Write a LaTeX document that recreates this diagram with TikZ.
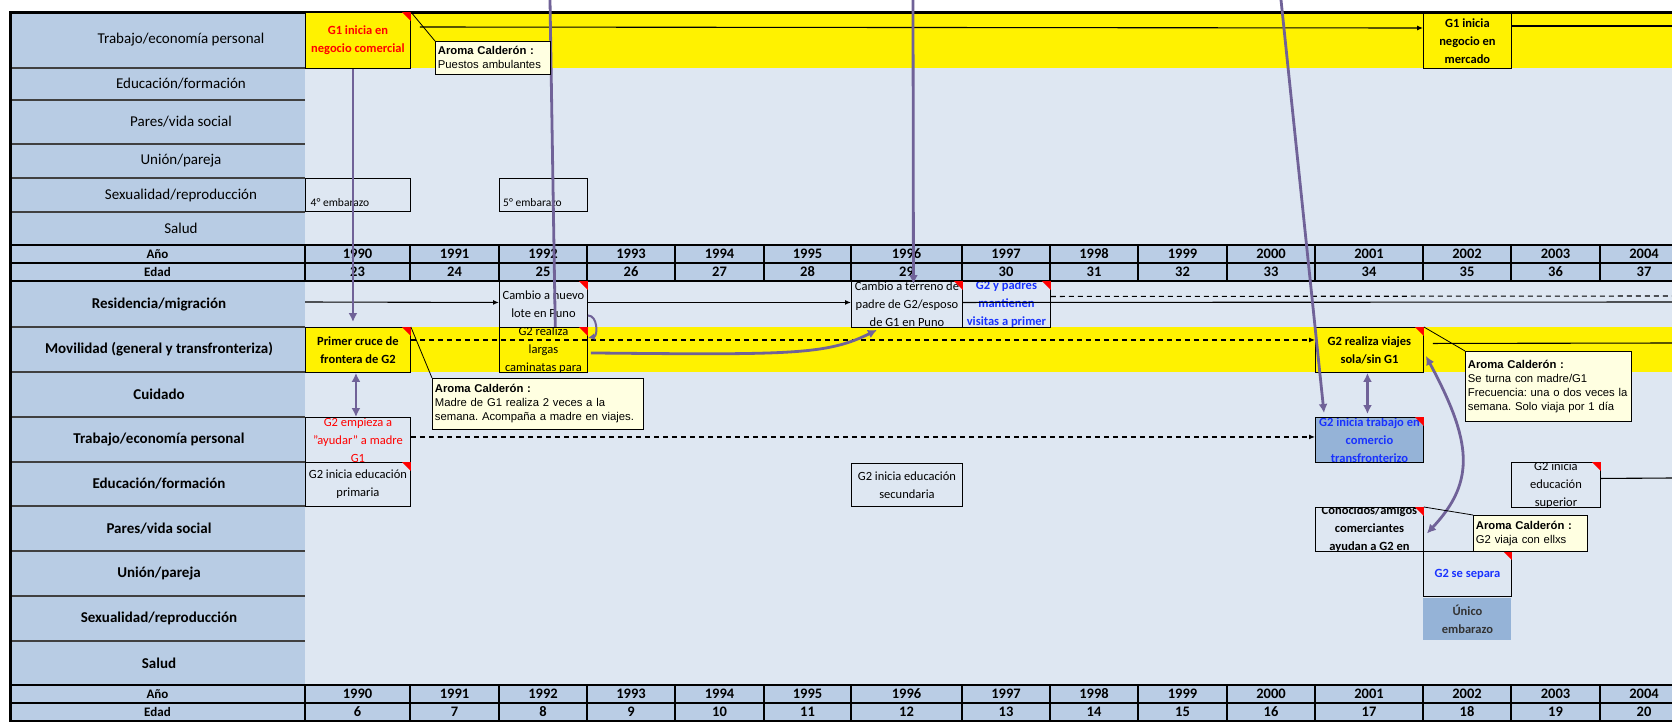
\documentclass[tikz,border=0pt]{standalone}
\usepackage{fontspec}
\setmainfont{Carlito}
\newfontfamily\notefont{Liberation Sans}
\usepackage{tikz}
\usetikzlibrary{arrows.meta,positioning}
\frenchspacing

\definecolor{labelblue}{RGB}{184,204,228}
\definecolor{gridbg}{RGB}{222,231,242}
\definecolor{yearblue}{RGB}{186,205,229}
\definecolor{boxblue}{RGB}{149,179,215}
\definecolor{noteyellow}{RGB}{255,255,225}
\definecolor{linkpurple}{RGB}{112,98,152}
\definecolor{txtblue}{RGB}{25,50,255}

% event box: [box options]{name}{x,y of top left}{width}{height}{text options}{text}
\newcommand{\evbox}[7][]{%
  \node[evbox, minimum width=#4, minimum height=#5, #1,
    path picture={\node[evtext, #6] (#2-txt) at (path picture bounding box.center) {#7};}]
    (#2) at (#3) {};%
}
\newcommand{\redcorner}[1]{\fill[red] (#1.north east) -- ++(-9,0) -- ++(9,9) -- cycle;}

\begin{document}
\begin{tikzpicture}[
  x=1pt, y=-1pt,
  lab/.style={font=\fontsize{15}{18}\selectfont},
  labb/.style={font=\bfseries\fontsize{15}{18}\selectfont},
  sepline/.style={draw=black!75, line width=1.3pt},
  yearcell/.style={draw=black, line width=1.2pt, fill=yearblue, minimum height=18pt, inner sep=0pt, font=\bfseries\fontsize{14.5}{16}\selectfont},
  headcell/.style={yearcell, minimum width=295pt, font=\bfseries\fontsize{13}{15}\selectfont},
  evbox/.style={draw=black, line width=0.9pt, fill=gridbg, anchor=north west, inner sep=0pt},
  evtext/.style={anchor=center, align=center, draw=none, fill=none, inner sep=0pt, text=black, font=\fontsize{12.5}{18}\selectfont},
  boldtext/.style={font=\bfseries\fontsize{12.5}{18}\selectfont},
  smalltext/.style={font=\fontsize{11.5}{13}\selectfont},
  note/.style={draw=black, line width=0.8pt, fill=noteyellow, anchor=north west, align=left, inner xsep=2.5pt, inner ysep=1pt, font=\notefont\fontsize{11.3}{14}\selectfont},
  callout/.style={draw=black, line width=0.8pt},
  plain/.style={draw=black, line width=1.1pt},
  arrow/.style={plain, -{Latex[length=6pt,width=5pt]}},
  dashedline/.style={plain, dash pattern=on 5pt off 4pt},
  dashedarrow/.style={arrow, dash pattern=on 5pt off 4pt},
  link/.style={draw=linkpurple, line width=2.8pt, -{Latex[length=9pt,width=9pt]}},
  twolink/.style={link, {Latex[length=9pt,width=9pt]}-{Latex[length=9pt,width=9pt]}}
]
\path[use as bounding box, clip] (0,0) rectangle (1672,721);
\fill[white] (0,0) rectangle (1672,721);
\fill[gridbg] (305,12) rectangle (1672,721);
\fill[labelblue] (10,12) rectangle (305,721);
\fill[yellow] (305,12) rectangle (1672,68);
\fill[yellow] (305,327) rectangle (1672,372);

% row labels, G1 (top) and G2 (bottom)
\foreach \lab/\ya/\yb [count=\i] in {{Trabajo/economía personal}/12/68, {Educación/formación}/68/100, {Pares/vida social}/100/144, {Unión/pareja}/144/178, {Sexualidad/reproducción}/178/212, Salud/212/245}
  \node[lab] (g1row\i) at (181,{(\ya+\yb)/2}) {\lab};
\foreach \yb in {68,100,144,178,212}
  \draw[sepline] (10,\yb) -- (305,\yb);
\foreach \lab/\ya/\yb [count=\i] in {{Residencia/migración}/281/327, {Movilidad (general y transfronteriza)}/327/372, Cuidado/372/417, {Trabajo/economía personal}/417/462, {Educación/formación}/462/506, {Pares/vida social}/506/551, {Unión/pareja}/551/596, {Sexualidad/reproducción}/596/641, Salud/641/685}
  \node[labb] (g2row\i) at (159,{(\ya+\yb)/2}) {\lab};
\foreach \yb in {327,372,417,462,506,551,596,641}
  \draw[sepline] (10,\yb) -- (305,\yb);

% year and age rows
\node[headcell] (anoA) at (157.5,254) {Año};
\node[headcell] (edadA) at (157.5,272) {Edad};
\node[headcell] (anoB) at (157.5,694) {Año};
\node[headcell] (edadB) at (157.5,712) {Edad};
\foreach \yr/\xa/\xb/\agea/\ageb in {1990/305/410/23/6, 1991/410/499/24/7, 1992/499/587/25/8, 1993/587/675/26/9, 1994/675/764/27/10, 1995/764/851/28/11, 1996/851/962/29/12, 1997/962/1050/30/13, 1998/1050/1138/31/14, 1999/1138/1227/32/15, 2000/1227/1315/33/16, 2001/1315/1423/34/17, 2002/1423/1511/35/18, 2003/1511/1600/36/19, 2004/1600/1688/37/20}{
  \node[yearcell, minimum width={\xb-\xa}] (ya\yr) at ({(\xa+\xb)/2},254) {\yr};
  \node[yearcell, minimum width={\xb-\xa}] (ea\yr) at ({(\xa+\xb)/2},272) {\agea};
  \node[yearcell, minimum width={\xb-\xa}] (yb\yr) at ({(\xa+\xb)/2},694) {\yr};
  \node[yearcell, minimum width={\xb-\xa}] (eb\yr) at ({(\xa+\xb)/2},712) {\ageb};
}
\foreach \yb in {245,281,685}
  \draw[line width=2.2pt] (10,\yb) -- (1672,\yb);
\draw[line width=3pt] (10,721) -- (10,12) -- (1672,12);

% events
\evbox[fill=yellow]{g1neg}{305,12}{105}{56}{boldtext, text=red}{G1 inicia en\\negocio comercial}
\evbox[fill=yellow]{g1mer}{1423,13}{88}{55}{boldtext}{G1 inicia\\negocio en\\mercado}
\evbox{emb4}{305,178}{105}{33}{smalltext, xshift=-18pt, yshift=-8pt}{4° embarazo}
\evbox{emb5}{499,178}{88}{33}{smalltext, xshift=-11pt, yshift=-8pt}{5° embarazo}
\evbox{lote}{499,281}{88}{46}{}{Cambio a nuevo\\lote en Puno}
\evbox{terreno}{851,281}{111}{46}{}{Cambio a terreno de\\padre de G2/esposo\\de G1 en Puno}
\evbox{visitas}{962,281}{88}{46}{boldtext, text=txtblue}{G2 y padres\\mantienen\\visitas a primer}
\evbox[fill=yellow]{cruce}{305,327}{105}{45}{boldtext}{Primer cruce de\\frontera de G2}
\evbox[fill=yellow]{viajes}{1315,327}{108}{45}{boldtext}{G2 realiza viajes\\sola/sin G1}
\evbox{ayudar}{305,417}{105}{45}{text=red}{G2 empieza a\\"ayudar" a madre\\G1}
\evbox[fill=boxblue]{trab2}{1315,417}{108}{45}{boldtext, text=txtblue}{G2 inicia trabajo en\\comercio\\transfronterizo}
\evbox{educ1}{305,462}{105}{44}{}{G2 inicia educación\\primaria}
\evbox{educ2}{851,463}{111}{43}{}{G2 inicia educación\\secundaria}
\evbox{educ3}{1511,462}{89}{45}{}{G2 inicia\\educación\\superior}
\evbox{conoc}{1315,507}{108}{44}{boldtext}{Conocidos/amigos\\comerciantes\\ayudan a G2 en}
\evbox{separa}{1423,551}{88}{45}{boldtext, text=txtblue}{G2 se separa}
\evbox[fill=boxblue, draw=none]{unico}{1423,598}{88}{42}{boldtext, text=black!80}{Único\\embarazo}
\foreach \n in {g1neg,lote,terreno,visitas,cruce,viajes,trab2,educ1,educ3,conoc,separa}
  {\redcorner{\n}}

% free ends
\coordinate (g1end) at (1672,26);
\coordinate (resstart) at (305,302);
\coordinate (resend) at (1672,302);
\coordinate (visend) at (1672,296);
\coordinate (viaend) at (1672,343);
\coordinate (supend) at (1672,478);
\coordinate (g1topA) at (550,0);
\coordinate (g1topB) at (913,0);
\coordinate (g1topC) at (1281,0);

% black connectors
\draw[arrow] ([xshift=9pt,yshift=-15pt]g1neg.north east) -- ([yshift=-15pt]g1mer.north west);
\draw[plain] ([yshift=-13pt]g1mer.north east) -- (g1end);
\draw[arrow] (resstart) -- ([yshift=2pt]lote.west);
\draw[arrow] ([yshift=2pt]lote.east) -- ([yshift=2pt]terreno.west);
\draw[plain] ([yshift=2pt]terreno.east) -- (resend);
\draw[dashedline] ([yshift=8pt]visitas.east) -- (visend);
\draw[plain] ([xshift=9pt,yshift=6.5pt]viajes.east) -- (viaend);
\draw[dashedarrow] ([yshift=3pt]ayudar.east) -- ([yshift=3pt]trab2.west);
\draw[plain] ([yshift=6.5pt]educ3.east) -- (supend);

% G1 to G2 link into the walking box, then the box over its tip
\draw[link] (g1topA) -- ([xshift=12pt,yshift=-11pt]lote.south);
\evbox[fill=yellow]{camin}{499,327}{88}{45}{}{G2 realiza\\largas\\caminatas para}
\redcorner{camin}
\draw[dashedarrow] ([yshift=10pt]cruce.east) -- ([yshift=10pt]viajes.west);

% purple links
\draw[link] ([xshift=-5pt]g1neg.south) -- ([xshift=-5pt,yshift=5pt]cruce.north);
\draw[link] (g1topB) -- ([xshift=6.5pt,yshift=-3pt]terreno.north);
\draw[link] (g1topC) -- ([xshift=9pt,yshift=4pt]trab2.north west);
\draw[twolink] ([xshift=-2pt]cruce.south) -- ([xshift=-2pt]ayudar.north);
\draw[twolink] ([xshift=-2pt]viajes.south) -- ([xshift=-2pt,yshift=3pt]trab2.north);
\draw[link, line width=2pt, -{Latex[length=7pt,width=7pt]}] ([yshift=-11pt]lote.east) .. controls +(10,0) and +(10,-2) .. ([yshift=12pt]camin.east);
\draw[link] ([xshift=3pt,yshift=-3pt]camin.east) .. controls +(200,2) and +(-50,25) .. ([xshift=-30pt,yshift=-2pt]terreno.south);
\draw[twolink] ([xshift=2pt,yshift=-6pt]viajes.east) .. controls +(45,84) and +(50,-53) .. ([xshift=3pt,yshift=-4pt]conoc.east);

% comments
\node[note, text width=110pt, minimum height=33pt] (note1) at (435,41) {\textbf{Aroma Calderón :}\\Puestos ambulantes};
\node[note, text width=206pt, minimum height=51pt] (note2) at (432,378) {\textbf{Aroma Calderón :}\\Madre de G1 realiza 2 veces a la\\semana. Acompaña a madre en viajes.};
\node[note, text width=161pt, minimum height=70pt] (note3) at (1465,351) {\textbf{Aroma Calderón :}\\Se turna con madre/G1\\Frecuencia: una o dos veces la\\semana. Solo viaja por 1 día};
\node[note, text width=109pt, minimum height=36pt] (note4) at (1473,515) {\textbf{Aroma Calderón :}\\G2 viaja con ellxs};
\draw[callout] (g1neg.north east) -- (note1.north west);
\draw[callout] (cruce.north east) -- (note2.north west);
\draw[callout] (viajes.north east) -- (note3.north west);
\draw[callout] (conoc.north east) -- (note4.north west);
\end{tikzpicture}
\end{document}
